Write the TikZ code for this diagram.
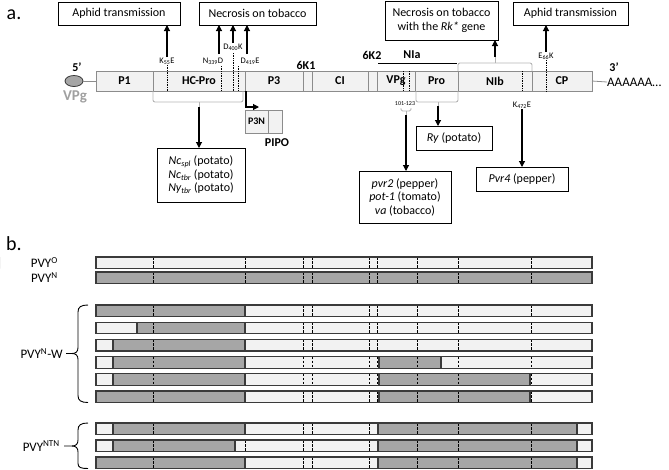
\documentclass[tikz,border=0pt]{standalone}
\usepackage{fontspec}
\setmainfont{Carlito}
\usetikzlibrary{arrows.meta,shapes.geometric}
\definecolor{cLight}{HTML}{F2F2F2}
\definecolor{cGray}{HTML}{A6A6A6}
\definecolor{cEdge}{HTML}{3A3A3A}
\definecolor{cSeg}{HTML}{8C8C8C}
\definecolor{cBrk}{HTML}{B4B4B4}
\definecolor{cVPg}{HTML}{A0A0A0}
\newcommand{\pvfill}[1]{\fill[cLight] (96,#1) rectangle (592,#1+11.5);}
\newcommand{\pvgray}[3]{\fill[cGray] (#2,#1) rectangle (#3,#1+11.5);}
\newcommand{\pvedge}[2]{\draw[rowedge] (#2,#1) -- (#2,#1+11.5);}
\newcommand{\pvdash}[1]{\foreach \xx in {153,245,303,312,369,377,417,458,531}{\draw[rowdash] (\xx,#1) -- (\xx,#1+11.5);}}
\newcommand{\pvframe}[1]{\draw[rowedge] (96,#1) rectangle (592,#1+11.5);}
\newcommand{\pvrow}[3]{\pvfill{#1}\foreach \ua/\ub in {#2}{\pvgray{#1}{\ua}{\ub}}\pvdash{#1}\foreach \ue in {#3}{\pvedge{#1}{\ue}}\pvframe{#1}}
\tikzset{
  box/.style={draw=black, line width=1pt, fill=white, inner sep=0pt, outer sep=0pt, align=center, font=\fontsize{12}{13.5}\selectfont},
  seg/.style={draw=cSeg, fill=cLight, line width=0.7pt, minimum height=20pt, inner sep=0pt, outer sep=0pt, font=\bfseries\fontsize{12}{14}\selectfont},
  mut/.style={font=\fontsize{8.5}{9}\selectfont, inner sep=0.5pt},
  glab/.style={font=\bfseries\fontsize{12}{14}\selectfont, inner sep=0pt},
  arr/.style={-{Triangle[length=6pt,width=6pt]}, line width=1.1pt},
  dotl/.style={densely dotted, line width=0.7pt},
  brk/.style={draw=cBrk, line width=0.9pt, rounded corners=2pt},
  rowedge/.style={draw=cEdge, line width=1.2pt},
  rowdash/.style={draw=black, dashed, dash pattern=on 2.5pt off 1.5pt, line width=0.6pt},
  brace/.style={draw=black, line width=0.9pt},
  pvy/.style={font=\fontsize{13}{15}\selectfont, inner sep=0pt, anchor=east}
}
\begin{document}
\begin{tikzpicture}[x=1pt,y=-1pt]
\useasboundingbox (0,0) rectangle (669,469);
% panel labels
\node[font=\fontsize{20}{22}\selectfont] (la) at (14,15) {a.};
\node[font=\fontsize{20}{22}\selectfont] (lb) at (14,244) {b.};
% top boxes
\node[box, minimum width=122pt, minimum height=23pt] (aph1) at (119,13.5) {Aphid transmission};
\node[box, minimum width=117pt, minimum height=23pt] (nec1) at (257.5,13.5) {Necrosis on tobacco};
\node[box, minimum width=113pt, minimum height=39pt] (rk) at (441.5,20.5) {Necrosis on tobacco\\with the \textit{Rk*} gene};
\node[box, minimum width=115pt, minimum height=23pt] (aph2) at (570.5,13.5) {Aphid transmission};
% genome
\node[seg, minimum width=57pt] (p1) at (124.5,81) {P1};
\node[seg, minimum width=92pt] (hcpro) at (199,81) {HC-Pro};
\node[seg, minimum width=58pt] (p3) at (274,81) {P3};
\node[seg, minimum width=9pt] (k61) at (307.5,81) {};
\node[seg, minimum width=56pt] (ci) at (340,81) {CI};
\node[seg, minimum width=9pt] (k62) at (372.5,81) {};
\node[seg, minimum width=38pt] (vpg) at (396,81) {VPg};
\node[seg, minimum width=43pt] (pro) at (436.5,81) {Pro};
\node[seg, minimum width=74pt] (nib) at (495,81) {NIb};
\node[seg, minimum width=60pt] (cp) at (562,81) {CP};
\node[draw=cEdge, fill=cGray, ellipse, minimum width=18pt, minimum height=11pt, inner sep=0pt, line width=0.8pt] (vpgE) at (74,81) {};
\draw[draw=cSeg, line width=0.8pt] (vpgE.east) -- (p1.west);
\node[font=\bfseries\fontsize{15}{17}\selectfont, text=cVPg, inner sep=0pt] (vpglab) at (75,97) {VPg};
\node[glab] (five) at (77,67) {5’};
\node[glab] (three) at (614,67) {3’};
\node[font=\fontsize{13}{15}\selectfont, anchor=west, inner sep=0pt] (polyA) at (607,82) {AAAAAA…};
\draw[draw=cSeg, line width=0.8pt] (cp.east) -- (polyA.west);
\node[glab] (l6k1) at (306,65) {6K1};
\node[glab] (l6k2) at (372,55) {6K2};
\node[glab] (lnia) at (412,55) {NIa};
\coordinate (niaA) at (378,63);
\coordinate (niaB) at (457,63);
\draw[line width=0.9pt] (niaA) -- (niaB);
% mutations
\node[mut] (k55) at (167,61) {K\textsubscript{55}E};
\node[mut] (n339) at (213,61) {N\textsubscript{339}D};
\node[mut] (d400) at (233,47) {D\textsubscript{400}K};
\node[mut] (d419) at (250,61) {D\textsubscript{419}E};
\node[mut] (e66) at (546,56) {E\textsubscript{66}K};
\node[mut] (k472) at (522,105) {K\textsubscript{472}E};
\node[font=\fontsize{6}{7}\selectfont, inner sep=0pt] (aa) at (405,104) {101-123};
% dotted lines
\draw[dotl] (k55.south) -- (k55.south |- hcpro.south);
\coordinate (n339d) at (221,66);
\draw[dotl] (n339d) -- (n339d |- hcpro.south);
\coordinate (d400d) at (233,53);
\draw[dotl] (d400d) -- (d400d |- hcpro.south);
\coordinate (d419d) at (238,66);
\draw[dotl] (d419d) -- (d419d |- hcpro.south);
\coordinate (vd1) at (403,71);
\coordinate (vd2) at (409,71);
\draw[dotl] (vd1) -- (vd1 |- vpg.south);
\draw[dotl] (vd2) -- (vd2 |- vpg.south);
\coordinate (k472d) at (522,71);
\draw[dotl] (k472d) -- (k472d |- nib.south);
\draw[dotl] (e66.south) -- (e66.south |- cp.south);
% arrows up
\draw[arr] (k55.north) -- (k55.north |- aph1.south);
\coordinate (n339a) at (219,54);
\draw[arr] (n339a) -- (n339a |- nec1.south);
\draw[arr] (d400.north) -- (d400.north |- nec1.south);
\coordinate (d419a) at (247,54);
\draw[arr] (d419a) -- (d419a |- nec1.south);
\draw[arr] (e66.north) -- (e66.north |- aph2.south);
% NIb bracket
\draw[brk] (nib.north west) -- (458,63) -- (532,63) -- (nib.north east);
\coordinate (nibT) at (495,63);
\coordinate (nibA) at (495,57);
\draw[draw=cBrk, line width=0.9pt] (nibT) -- (nibA);
\draw[arr] (nibA) -- (nibA |- rk.south);
% lower boxes
\node[box, minimum width=88pt, minimum height=54pt] (nc) at (201,175) {\textit{Nc\textsubscript{spl}} (potato)\\\textit{Nc\textsubscript{tbr}} (potato)\\\textit{Ny\textsubscript{tbr}} (potato)};
\node[box, minimum width=76pt, minimum height=24pt] (ry) at (454,138) {\textit{Ry} (potato)};
\node[box, minimum width=92pt, minimum height=52pt] (pvr) at (405,197) {\textit{pvr2} (pepper)\\\textit{pot-1} (tomato)\\\textit{va} (tobacco)};
\node[box, minimum width=92pt, minimum height=24pt] (pvr4) at (522,179) {\textit{Pvr4} (pepper)};
% HC-Pro bracket
\draw[brk] (153,91) -- (153,102) -- (243,102) -- (243,91);
\coordinate (hcT) at (199,102);
\coordinate (hcA) at (199,107);
\draw[draw=cBrk, line width=0.9pt] (hcT) -- (hcA);
\draw[arr] (hcA) -- (hcA |- nc.north);
% PIPO
\coordinate (pipoS) at (246,91);
\coordinate (pipoC) at (246,107);
\coordinate (pipoE) at (259,107);
\draw[arr] (pipoS) -- (pipoC) -- (pipoE);
\node[seg, minimum width=23pt, minimum height=23pt, font=\bfseries\fontsize{10}{12}\selectfont] (p3n) at (256.5,121.5) {P3N};
\node[seg, minimum width=14pt, minimum height=23pt] (pipob) at (275,121.5) {};
\node[glab] (pipol) at (277,143) {PIPO};
% Pro bracket
\draw[brk] (416,91) -- (416,102) -- (458,102) -- (458,91);
\coordinate (proT) at (438,102);
\coordinate (proA) at (438,106);
\draw[draw=cBrk, line width=0.9pt] (proT) -- (proA);
\draw[arr] (proA) -- (proA |- ry.north);
% VPg small bracket
\draw[brk, rounded corners=1.5pt] (401,108) -- (401,111) -- (411,111) -- (411,108);
\coordinate (vpT) at (406,111);
\coordinate (vpA) at (406,115);
\draw[draw=cBrk, line width=0.9pt] (vpT) -- (vpA);
\draw[arr] (vpA) -- (vpA |- pvr.north);
% K472E arrow
\draw[arr] (k472.south) -- (k472.south |- pvr4.north);
% ---- panel b ----
\pvrow{257}{0/0}{96}
\pvrow{272}{96/592}{96}
\node[pvy] (lo) at (58,262.5) {PVY\textsuperscript{O}};
\node[pvy] (ln) at (58,277.5) {PVY\textsuperscript{N}};
\pvrow{305}{96/245}{245}
\pvrow{322.2}{137/245}{137,245}
\pvrow{339.4}{113/245}{113,245}
\pvrow{356.6}{113/245,379/441}{113,245,379,441}
\pvrow{373.8}{113/245,379/530}{113,245,379,530}
\pvrow{391}{96/245,379/530}{245,379,530}
\pvrow{423}{113/245,378/577}{113,245,378,577}
\pvrow{440}{113/235,378/577}{113,235,378,577}
\pvrow{457}{96/245,378/577}{245,378,577}
% braces
\draw[brace] (88,305) .. controls (81,305) and (78,307) .. (78,312) -- (78,347.5) .. controls (78,351.5) and (76,353.5) .. (72,353.5) -- (66,353.5);
\draw[brace] (72,353.5) .. controls (76,353.5) and (78,355.5) .. (78,359.5) -- (78,395.5) .. controls (78,400.5) and (81,402.5) .. (88,402.5);
\node[pvy] (lnw) at (63,353.5) {PVY\textsuperscript{N}-W};
\draw[brace] (88,423) .. controls (81,423) and (78,425) .. (78,430) -- (78,440) .. controls (78,444) and (76,446) .. (72,446) -- (64,446);
\draw[brace] (72,446) .. controls (76,446) and (78,448) .. (78,452) -- (78,463.5) .. controls (78,467.5) and (81,468.5) .. (88,468.5);
\node[pvy] (lntn) at (60,446) {PVY\textsuperscript{NTN}};
\end{tikzpicture}
\end{document}
